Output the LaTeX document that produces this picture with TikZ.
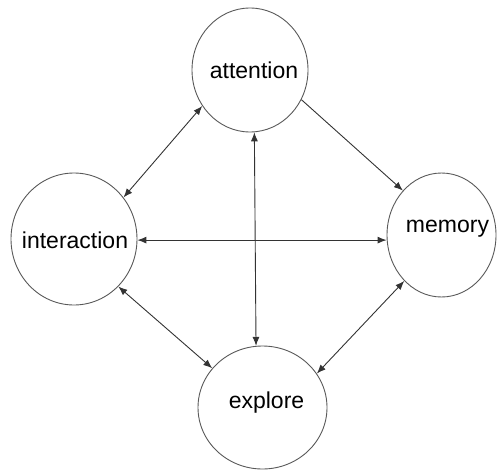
\documentclass[tikz,border=0pt]{standalone}
\usepackage{fontspec}
\setmainfont{Liberation Sans}
\usetikzlibrary{shapes.geometric,arrows.meta}
\begin{document}
\begin{tikzpicture}[x=1pt,y=-1pt,
  bubble/.style={ellipse,draw=black!65,line width=0.9pt,inner sep=0pt,fill=white,
     font=\fontsize{23}{27}\selectfont},
  link/.style={draw=black!80,line width=0.9pt,{Latex[length=9pt,width=7pt]}-{Latex[length=9pt,width=7pt]}},
  onelink/.style={draw=black!80,line width=0.9pt,-{Latex[length=9pt,width=7pt]}}]
\useasboundingbox (0,0) rectangle (497,471);
\node[bubble,minimum width=116pt,minimum height=124pt,label={[font=\fontsize{23}{27}\selectfont,xshift=4pt,yshift=0pt]center:attention}] (att) at (250,70) {};
\node[bubble,minimum width=126pt,minimum height=132pt,label={[font=\fontsize{23}{27}\selectfont,xshift=1pt,yshift=-1pt]center:interaction}] (int) at (74,239) {};
\node[bubble,minimum width=109pt,minimum height=124pt,label={[font=\fontsize{23}{27}\selectfont,xshift=6pt,yshift=6pt]center:memory}] (mem) at (441.5,235) {};
\node[bubble,minimum width=129pt,minimum height=123pt,label={[font=\fontsize{23}{27}\selectfont,xshift=4pt,yshift=5pt]center:explore}] (exp) at (262.5,407.5) {};
\draw[link] (att.217) -- (int.40.5);
\draw[onelink] (att.330) -- (mem.131);
\draw[link] (att.274.5) -- (exp.96.3);
\draw[link] (int.-1) -- (int.-1 -| mem.west);
\draw[link] (int.313) -- (exp.142.5);
\draw[link] (mem.231) -- (exp.32.7);
\end{tikzpicture}
\end{document}
